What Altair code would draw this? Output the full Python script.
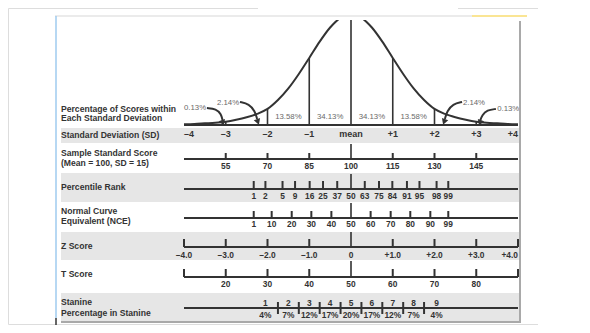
import altair as alt
import pandas as pd

# ---------------- data ----------------
curve_z = [-4.0, -3.75, -3.5, -3.25, -3.0, -2.75, -2.5, -2.25, -2.0, -1.75, -1.5, -1.25, -1.0,
           -0.75, -0.5, -0.25, 0.0, 0.25, 0.5, 0.75, 1.0, 1.25, 1.5, 1.75, 2.0, 2.25, 2.5,
           2.75, 3.0, 3.25, 3.5, 3.75, 4.0]
curve_d = [0.003, 0.004, 0.006, 0.008, 0.012, 0.019, 0.028, 0.040, 0.058, 0.090, 0.132, 0.184, 0.242,
           0.301, 0.352, 0.387, 0.399, 0.387, 0.352, 0.301, 0.242, 0.184, 0.132, 0.090, 0.058, 0.040, 0.028,
           0.019, 0.012, 0.008, 0.006, 0.004, 0.003]

div_z = [-3, -2, -1, 0, 1, 2, 3]
div_d = [0.012, 0.058, 0.242, 0.399, 0.242, 0.058, 0.012]

seg_pct = ["13.58%", "34.13%", "34.13%", "13.58%"]
seg_pct_z = [-1.5, -0.5, 0.5, 1.5]

tail_pct = ["0.13%", "2.14%", "2.14%", "0.13%"]
tail_z = [-3.47, -2.68, 2.68, 3.50]
tail_d = [0.061, 0.079, 0.079, 0.058]

arrow_id = [1, 1, 1, 1, 2, 2, 2, 2, 3, 3, 3, 3, 4, 4, 4, 4]
arrow_z = [-3.45, -3.23, -3.11, -3.07, -2.66, -2.44, -2.30, -2.25,
           2.66, 2.44, 2.30, 2.25, 3.47, 3.26, 3.14, 3.09]
arrow_d = [0.061, 0.058, 0.040, 0.014, 0.083, 0.076, 0.050, 0.022,
           0.083, 0.076, 0.050, 0.022, 0.058, 0.054, 0.036, 0.014]
head_z = [-3.07, -2.23, 2.23, 3.09]
head_d = [0.008, 0.011, 0.011, 0.008]
head_angle = [340, 340, 20, 20]

sd_z = [-4, -3, -2, -1, 0, 1, 2, 3, 4]
sd_labels = ["\u20134", "\u20133", "\u20132", "\u20131", "mean", "+1", "+2", "+3", "+4"]

std_scores = ["55", "70", "85", "100", "115", "130", "145"]
std_z = [-3, -2, -1, 0, 1, 2, 3]

pr_values = ["1", "2", "5", "9", "16", "25", "37", "50", "63", "75", "84", "91", "95", "98", "99"]
pr_z = [-2.33, -2.05, -1.64, -1.34, -0.99, -0.67, -0.33, 0.0, 0.33, 0.67, 0.99, 1.34, 1.64, 2.05, 2.33]

nce_values = ["1", "10", "20", "30", "40", "50", "60", "70", "80", "90", "99"]
nce_z = [-2.33, -1.90, -1.42, -0.95, -0.47, 0.0, 0.47, 0.95, 1.42, 1.90, 2.33]

z_values = [-4, -3, -2, -1, 0, 1, 2, 3, 4]
z_labels = ["\u20134.0", "\u20133.0", "\u20132.0", "\u20131.0", "0", "+1.0", "+2.0", "+3.0", "+4.0"]

t_z = [-4, -3, -2, -1, 0, 1, 2, 3, 4]
t_labels = ["", "20", "30", "40", "50", "60", "70", "80", ""]

stanine = ["1", "2", "3", "4", "5", "6", "7", "8", "9"]
stanine_pct = ["4%", "7%", "12%", "17%", "20%", "17%", "12%", "7%", "4%"]
stanine_z = [-2.05, -1.5, -1.0, -0.5, 0.0, 0.5, 1.0, 1.5, 2.05]
stanine_bounds = [-1.75, -1.25, -0.75, -0.25, 0.25, 0.75, 1.25, 1.75]

# ---------------- styling ----------------
FONT = "Liberation Sans"
DARK = "#333333"
GRAY_TXT = "#6a6a6a"
BAND = "#e6e6e6"
W, H = 530, 316
XS = alt.Scale(domain=[-8.2156, 4.479], nice=False, zero=False)
YS = alt.Scale(domain=[-0.71841, 0.42238], nice=False, zero=False)
ONE = pd.DataFrame({"k": [0]})


def X(f="z"):
    return alt.X(f"{f}:Q", scale=XS, axis=None)


def Y(f="d"):
    return alt.Y(f"{f}:Q", scale=YS, axis=None)


def rect(x0, x1, y0, y1, color):
    return alt.Chart(ONE).mark_rect(color=color).encode(
        x=alt.value(x0), x2=alt.value(x1), y=alt.value(y0), y2=alt.value(y1))


def seg(x0, x1, y0, y1, color, w):
    return alt.Chart(ONE).mark_rule(color=color, strokeWidth=w).encode(
        x=alt.value(x0), x2=alt.value(x1), y=alt.value(y0), y2=alt.value(y1))


def hline(y):
    df = pd.DataFrame({"z0": [-4], "z1": [4]})
    return alt.Chart(df).mark_rule(color=DARK, strokeWidth=2).encode(
        x=X("z0"), x2="z1:Q", y=alt.value(y))


def ticks(zs, top, base, w=2):
    df = pd.DataFrame({"z": zs})
    return alt.Chart(df).mark_rule(color=DARK, strokeWidth=w).encode(
        x=X(), y=alt.value(top), y2=alt.value(base))


def labels(zs, txt, y, size=8.4, weight="bold", color=DARK, align="center"):
    df = pd.DataFrame({"z": zs, "t": txt})
    return alt.Chart(df).mark_text(font=FONT, fontSize=size, fontWeight=weight, color=color,
                                   baseline="middle", align=align).encode(
        x=X(), y=alt.value(y), text="t:N")


def rowlabel(txt, y):
    return alt.Chart(ONE).mark_text(font=FONT, fontSize=8.6, fontWeight="bold", color=DARK,
                                    baseline="middle", align="left").encode(
        x=alt.value(53), y=alt.value(y), text=alt.value(txt))


layers = []
# bands
layers += [rect(53, 512, 120, 135, BAND), rect(53, 512, 165, 194, BAND),
           rect(53, 512, 224, 252, BAND), rect(53, 512, 285, 314, BAND)]

# curve
curve_df = pd.DataFrame({"z": curve_z, "d": curve_d})
layers.append(alt.Chart(curve_df).mark_line(color=DARK, strokeWidth=2, interpolate="monotone")
              .encode(x=X(), y=Y()))
div_df = pd.DataFrame({"z": div_z, "d": div_d, "b": [0] * len(div_z)})
layers.append(alt.Chart(div_df).mark_rule(color=DARK, strokeWidth=1.6)
              .encode(x=X(), y=Y("b"), y2="d:Q"))
layers.append(hline(117))
# cover for clipped peak
layers.append(rect(250, 450, 0, 12, "white"))

# curve percentages
layers.append(labels(seg_pct_z, seg_pct, 109, size=7.8, weight="normal", color=GRAY_TXT))
tdf = pd.DataFrame({"z": tail_z, "d": tail_d, "t": tail_pct})
layers.append(alt.Chart(tdf[tdf.z < 0]).mark_text(font=FONT, fontSize=7.8, color=GRAY_TXT,
                                                  baseline="middle", align="right")
              .encode(x=X(), y=Y(), text="t:N"))
layers.append(alt.Chart(tdf[tdf.z > 0]).mark_text(font=FONT, fontSize=7.8, color=GRAY_TXT,
                                                  baseline="middle", align="left")
              .encode(x=X(), y=Y(), text="t:N"))
adf = pd.DataFrame({"z": arrow_z, "d": arrow_d, "g": arrow_id, "o": list(range(len(arrow_z)))})
layers.append(alt.Chart(adf).mark_line(color=DARK, strokeWidth=2, interpolate="basis")
              .encode(x=X(), y=Y(), detail="g:N", order="o:Q"))
hdf = pd.DataFrame({"z": head_z, "d": head_d, "a": head_angle})
layers.append(alt.Chart(hdf).mark_point(shape="triangle-down", filled=True, size=45, opacity=1,
                                         color=DARK)
              .encode(x=X(), y=Y(), angle=alt.Angle("a:Q", scale=None)))

# SD row
layers.append(labels(sd_z[1:-1], sd_labels[1:-1], 126, size=9))
layers.append(labels(sd_z[:1], sd_labels[:1], 126, size=9, align="left"))
layers.append(labels(sd_z[-1:], sd_labels[-1:], 126, size=9, align="right"))

# Standard score row
layers += [hline(151), ticks([z for z in std_z if z != 0], 145, 151), ticks([0], 136, 151, 1.6),
           labels(std_z, std_scores, 158)]
# Percentile rank
layers += [hline(181), ticks([z for z in pr_z if z != 0], 173, 181), ticks([0], 166, 181, 1.6),
           labels(pr_z, pr_values, 188)]
# NCE
layers += [hline(210), ticks([z for z in nce_z if z != 0], 203, 210), ticks([0], 195, 210, 1.6),
           labels(nce_z, nce_values, 216)]
# Z score
layers += [hline(239), ticks([z for z in z_values if z != 0], 231, 239), ticks([0], 224, 239, 1.6),
           labels(z_values[:-1], z_labels[:-1], 247),
           labels(z_values[-1:], z_labels[-1:], 247, align="right")]
# T score
layers += [hline(269), ticks([z for z in t_z if z != 0], 261, 269), ticks([0], 253, 269, 1.6),
           labels(t_z, t_labels, 276)]
# Stanine
layers += [hline(300), ticks(stanine_bounds, 294, 306),
           labels(stanine_z, stanine, 295), labels(stanine_z, stanine_pct, 307)]

# row labels
for txt, y in [("Percentage of Scores within", 101), ("Each Standard Deviation", 110),
               ("Standard Deviation (SD)", 127), ("Sample Standard Score", 145),
               ("(Mean = 100, SD = 15)", 155), ("Percentile Rank", 179),
               ("Normal Curve", 203), ("Equivalent (NCE)", 213), ("Z Score", 238),
               ("T Score", 266), ("Stanine", 294), ("Percentage in Stanine", 305)]:
    layers.append(rowlabel(txt, y))

# frame
layers += [seg(47, 464, 8, 8, "#e4e4e4", 1.5), seg(464, 519, 8, 8, "#f8dc70", 1.5),
           seg(48, 48, 8, 310, "#9fcbef", 1.5), seg(48, 48, 310, 317, "#333333", 1.5),
           seg(512, 512, 13, 314, "#a9a9a9", 2), seg(53, 513, 314, 314, "#a9a9a9", 2)]

chart = alt.layer(*layers).properties(width=W, height=H, padding=0).configure_view(stroke=None)
chart = chart.configure(background="white")
chart.save("out.html", embed_options={"renderer": "svg", "actions": False})
